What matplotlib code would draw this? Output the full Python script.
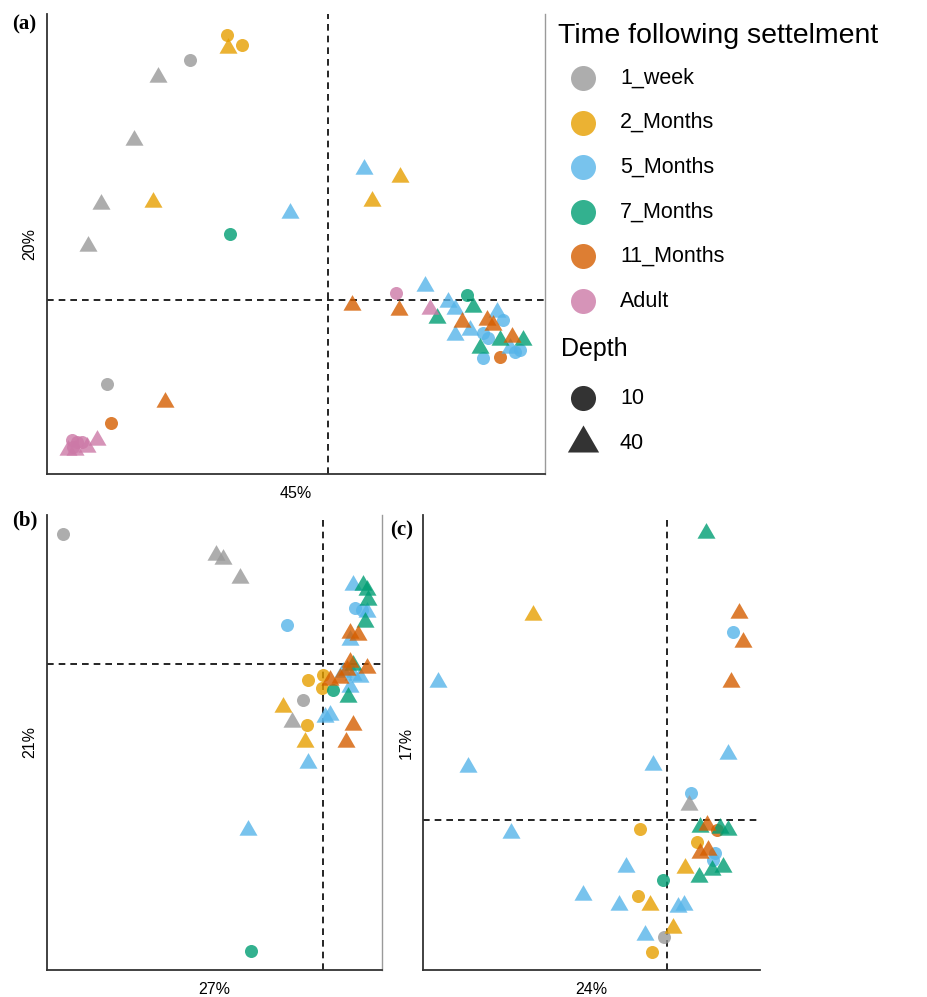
"""
PCoA scatter panels (a)-(c): time following settlement x depth
"""
import matplotlib.pyplot as plt

plt.rcParams['font.family'] = ['Liberation Sans', 'DejaVu Sans']

# groups and colours (Okabe-Ito)
times = ['1_week', '2_Months', '5_Months', '7_Months', '11_Months', 'Adult']
colors = ['#999999', '#E69F00', '#56B4E9', '#009E73', '#D55E00', '#CC79A7']
depths = [10, 40]

# panel (a)  axis 45% / 20%
a_x = [-1.38, -2.21, -1.70, -1.94, -2.27, -2.40,
       -1.01, -0.86, -1.00, -1.75, 0.72, 0.44,
       1.75, 1.55, 1.60, 1.92, 1.55, 1.87,
       -0.38, 0.36, 0.97, 1.20, 1.27, 1.27, 1.69, 1.82, 1.42,
       -0.98, 1.39, 1.09, 1.45, 1.72, 1.95, 1.52,
       -2.17, 1.72, 0.24, 0.71, 1.34, 1.59, 1.65, 1.84, -1.63,
       0.68, -2.56, -2.51, -2.46, -2.55, 1.02, -2.31, -2.60, -2.53, -2.41]
a_y = [2.40, -0.84, 2.23, 1.60, 0.96, 0.54,
       2.65, 2.55, 2.52, 0.98, 1.23, 0.99,
       -0.20, -0.33, -0.38, -0.50, -0.58, -0.52,
       0.87, 1.31, 0.14, -0.02, -0.09, -0.35, -0.12, -0.48, -0.30,
       0.66, 0.05, -0.18, -0.07, -0.40, -0.40, -0.48,
       -1.23, -0.57, -0.05, -0.10, -0.22, -0.20, -0.25, -0.37, -1.02,
       0.07, -1.40, -1.42, -1.42, -1.47, -0.09, -1.40, -1.50, -1.50, -1.47]
a_time = [0] * 6 + [1] * 6 + [2] * 15 + [3] * 7 + [4] * 9 + [5] * 10
a_depth = ([10, 10, 40, 40, 40, 40] + [10, 10, 40, 40, 40, 40] + [10] * 6 + [40] * 9
           + [10, 10, 40, 40, 40, 40, 40] + [10, 10] + [40] * 7
           + [10] * 5 + [40] * 5)

# panel (b)  axis 27% / 21%
b_x = [-2.60, -0.20, -1.07, -1.00, -0.83, -0.31,
       0.00, -0.15, -0.01, -0.16, -0.40, -0.18,
       -0.36, 0.32, 0.39, 0.30, 0.44, 0.27, 0.20, 0.30, 0.37, 0.27, 0.02, 0.07, -0.15, -0.75,
       0.10, -0.72, 0.40, 0.44, 0.45, 0.42, 0.30, 0.25,
       0.27, 0.35, 0.27, 0.24, 0.44, 0.07, 0.17, 0.30, 0.23]
b_y = [1.30, -0.36, 1.09, 1.05, 0.86, -0.58,
       -0.11, -0.16, -0.24, -0.61, -0.43, -0.78,
       0.39, 0.56, 0.54, 0.79, 0.52, 0.24, -0.08, -0.11, -0.13, -0.23, -0.53, -0.51, -0.99, -1.66,
       -0.26, -2.87, 0.79, 0.74, 0.64, 0.42, -0.01, -0.33,
       0.31, 0.29, 0.02, -0.06, -0.04, -0.16, -0.14, -0.61, -0.78]
b_time = [0] * 6 + [1] * 6 + [2] * 14 + [3] * 8 + [4] * 9
b_depth = ([10, 10, 40, 40, 40, 40] + [10, 10, 10, 10, 40, 40] + [10] * 3 + [40] * 11
           + [10, 10] + [40] * 6 + [40] * 9)

# panel (c)  axis 24% / 17%
c_x = [-0.03, 0.22,
       -0.27, 0.30, -0.29, -0.15, -1.34, 0.18, -0.17, 0.06,
       0.66, 0.24, 0.48, 0.46, -2.29, 0.61, -1.99, -0.14, -1.56, -0.41, -0.84, -0.48, 0.11, 0.17, -0.22,
       -0.04, 0.39, 0.33, 0.53, 0.61, 0.32, 0.45, 0.56,
       0.50, 0.72, 0.76, 0.64, 0.40, 0.33, 0.41]
c_y = [-1.17, 0.15,
       -0.09, -0.22, -0.76, -1.32, 2.05, -0.48, -0.85, -1.08,
       1.88, 0.27, -0.33, -0.40, 1.38, 0.66, 0.53, 0.55, -0.13, -0.47, -0.75, -0.85, -0.87, -0.85, -1.15,
       -0.60, 2.87, -0.07, -0.08, -0.10, -0.57, -0.50, -0.47,
       -0.10, 2.07, 1.78, 1.38, -0.05, -0.33, -0.30]
c_time = [0] * 2 + [1] * 8 + [2] * 15 + [3] * 8 + [4] * 7
c_depth = ([10, 40] + [10, 10, 10, 10, 40, 40, 40, 40] + [10] * 4 + [40] * 11
           + [10] + [40] * 7 + [10] + [40] * 6)

# equilateral triangle like ggplot shape 17
TRI = [(-1.0, -0.577), (1.0, -0.577), (0.0, 1.155)]
MARK = {10: ('o', 88), 40: (TRI, 225)}

fig = plt.figure(figsize=(9.27, 9.97), dpi=100)


def draw_panel(rect, xs, ys, tcode, dcode, xlim, ylim, xlabel, ylabel, right_line):
    ax = fig.add_axes(rect)
    for d in depths:
        m, s = MARK[d]
        for ti in range(len(times)):
            px = [x for x, t, dd in zip(xs, tcode, dcode) if t == ti and dd == d]
            py = [y for y, t, dd in zip(ys, tcode, dcode) if t == ti and dd == d]
            if px:
                ax.scatter(px, py, marker=m, s=s, color=colors[ti], alpha=0.8,
                           linewidths=0, zorder=3)
    ax.axhline(0, color='black', linestyle=(0, (4, 3)), linewidth=1.2, zorder=2)
    ax.axvline(0, color='black', linestyle=(0, (4, 3)), linewidth=1.2, zorder=2)
    ax.set_xlim(xlim)
    ax.set_ylim(ylim)
    ax.set_xticks([])
    ax.set_yticks([])
    ax.spines['top'].set_visible(False)
    if right_line:
        ax.spines['right'].set_color('#9a9a9a')
        ax.spines['right'].set_linewidth(1.0)
    else:
        ax.spines['right'].set_visible(False)
    for sp in ('left', 'bottom'):
        ax.spines[sp].set_color('#333333')
        ax.spines[sp].set_linewidth(1.3)
    ax.set_xlabel(xlabel, fontsize=11.5, labelpad=9)
    ax.set_ylabel(ylabel, fontsize=11.5, labelpad=7)
    return ax


draw_panel([0.0507, 0.5246, 0.537, 0.4614], a_x, a_y, a_time, a_depth,
           (-2.81, 2.17), (-1.74, 2.86), '45%', '20%', True)
draw_panel([0.0507, 0.0271, 0.3614, 0.4564], b_x, b_y, b_time, b_depth,
           (-2.76, 0.59), (-3.06, 1.49), '27%', '21%', True)
draw_panel([0.4563, 0.0271, 0.3635, 0.4564], c_x, c_y, c_time, c_depth,
           (-2.44, 0.93), (-1.50, 3.05), '24%', '17%', False)

# panel tags
for lab, x, y in [('(a)', 0.013, 0.975), ('(b)', 0.013, 0.478), ('(c)', 0.421, 0.468)]:
    fig.text(x, y, lab, fontsize=15, fontweight='bold',
             family=['Liberation Serif', 'DejaVu Serif'], va='center', ha='left')

# legend, drawn in pixel space
lax = fig.add_axes([0, 0, 1, 1], facecolor='none')
lax.set_xlim(0, 927)
lax.set_ylim(997, 0)
lax.axis('off')
lax.text(558, 36, 'Time following settelment', fontsize=20.5, va='center', ha='left')
for i, (t, c) in enumerate(zip(times, colors)):
    yy = 78 + i * 44.6
    lax.scatter([583], [yy], s=324, color=c, alpha=0.8, linewidths=0)
    lax.text(620, yy, t, fontsize=15.5, va='center', ha='left')
lax.text(561, 349, 'Depth', fontsize=18, va='center', ha='left')
for j, d in enumerate(depths):
    yy = 398 + j * 45
    m, s = MARK[d]
    lax.scatter([583], [yy], marker=m, s=s * (3.7 if d == 10 else 3.0),
                color='#333333', linewidths=0)
    lax.text(620, yy, str(d), fontsize=15.5, va='center', ha='left')

plt.savefig('out.png', dpi=100)
